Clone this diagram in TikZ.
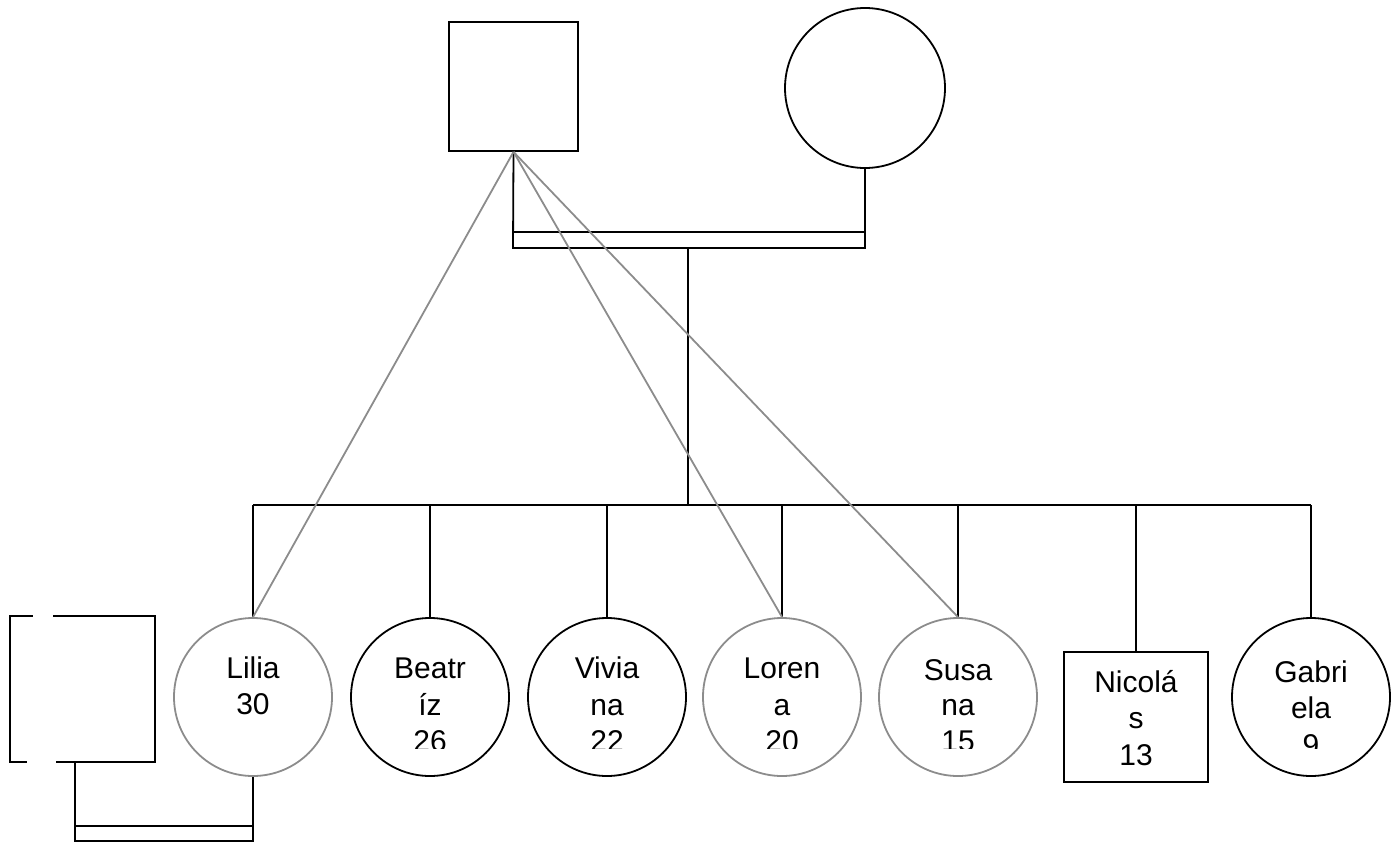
\documentclass[tikz,border=0pt]{standalone}
\usepackage{fontspec}
\setmainfont{Liberation Sans}
\begin{document}
\begin{tikzpicture}[x=1pt,y=-1pt,
  blk/.style={draw=black,line width=1.8pt},
  gry/.style={draw=black!45,line width=1.8pt},
  male/.style={rectangle,inner sep=0pt},
  female/.style={circle,inner sep=0pt,minimum size=158pt},
  txt/.style={anchor=base,inner sep=0pt,font=\fontsize{30}{36}\selectfont}]
\useasboundingbox (0,0) rectangle (1396,846);
% parents
\node[male,blk,minimum size=129pt] (father) at (513.5,86.5) {};
\node[female,blk,minimum size=160pt] (mother) at (865,88) {};
\coordinate (m1) at (513,232); \coordinate (m2) at (865,232);
\coordinate (m3) at (513,248); \coordinate (m4) at (865,248);
\coordinate (d) at (688,248); \coordinate (sib) at (688,505);
\draw[blk] (father.south) -- (m3) -- (m4) -- (mother.south);
\draw[blk] (m1) -- (m2);
\draw[blk] (d) -- (sib);
% children
\node[female,gry] (lilia) at (253,697) {};
\node[female,blk] (beatriz) at (430,697) {};
\node[female,blk] (viviana) at (607,697) {};
\node[female,gry] (lorena) at (782,697) {};
\node[female,gry] (susana) at (958,697) {};
\node[male,blk,minimum width=144pt,minimum height=130pt] (nicolas) at (1136,717) {};
\node[female,blk] (gabriela) at (1311,697) {};
\coordinate (sL) at (253,505); \coordinate (sR) at (1311,505);
\draw[blk] (sL) -- (sR);
\foreach \c in {lilia,beatriz,viviana,lorena,susana,nicolas,gabriela}
  \draw[blk] (\c.north |- sib) -- (\c.north);
% gray lines
\draw[gry] (father.south) -- (lilia.north);
\draw[gry] (father.south) -- (lorena.north);
\draw[gry] (father.south) -- (susana.north);
% husband of Lilia
\node[male,blk,minimum width=145pt,minimum height=146pt] (husband) at (82.5,689) {};
\fill[white] (33,610) rectangle (53,622);
\fill[white] (27,756) rectangle (56,768);
\coordinate (h1) at (75,762); \coordinate (h2) at (75,841);
\coordinate (h3) at (253,841); \coordinate (h4) at (75,826); \coordinate (h5) at (253,826);
\draw[blk] (h1) -- (h2) -- (h3) -- (lilia.south);
\draw[blk] (h4) -- (h5);
% texts
\node[txt] (t1a) at (253,678) {Lilia};
\node[txt] (t1b) at (253,714) {30};
\node[txt] (t6a) at (1136,692) {Nicolá};
\node[txt] (t6b) at (1136,728) {s};
\node[txt] (t6c) at (1136,765) {13};
\begin{scope}
\clip (0,0) rectangle (1396,748);
\node[txt] (t2a) at (430,678) {Beatr};
\node[txt] (t2b) at (430,715) {íz};
\node[txt] (t2c) at (430,751) {26};
\node[txt] (t3a) at (607,678) {Vivia};
\node[txt] (t3b) at (607,715) {na};
\node[txt] (t3c) at (607,751) {22};
\node[txt] (t4a) at (782,678) {Loren};
\node[txt] (t4b) at (782,715) {a};
\node[txt] (t4c) at (782,751) {20};
\node[txt] (t5a) at (958,680) {Susa};
\node[txt] (t5b) at (958,715) {na};
\node[txt] (t5c) at (958,751) {15};
\node[txt] (t7a) at (1311,682) {Gabri};
\node[txt] (t7b) at (1311,718) {ela};
\node[txt] (t7c) at (1311,755) {9};
\end{scope}
\end{tikzpicture}
\end{document}
